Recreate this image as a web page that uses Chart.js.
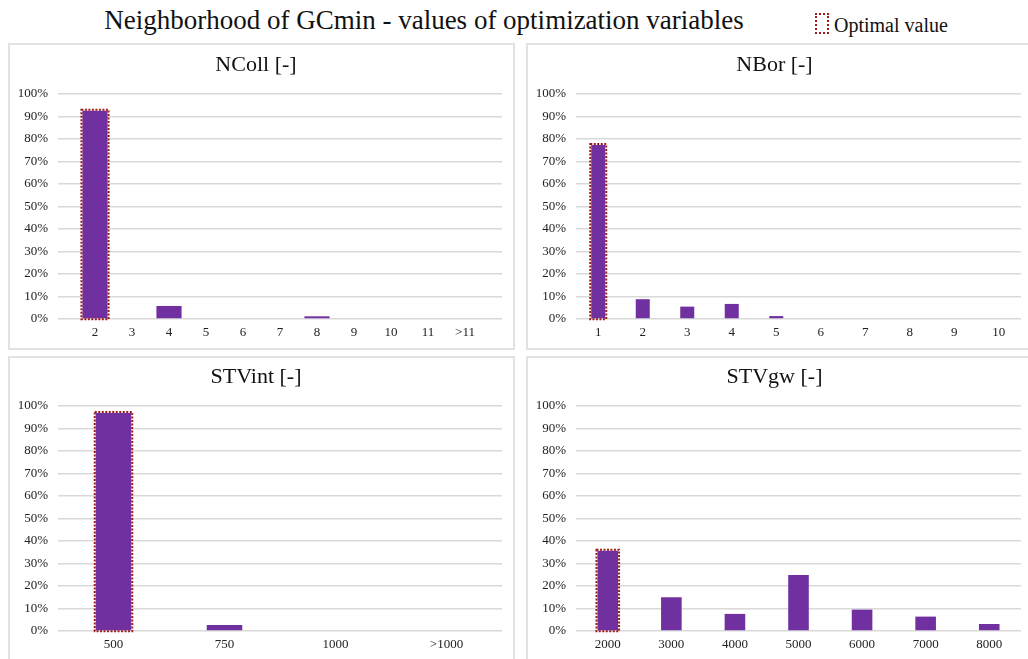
<!DOCTYPE html>
<html>
<head>
<meta charset="utf-8">
<script src="https://cdn.jsdelivr.net/npm/chart.js@4.4.1/dist/chart.umd.min.js"></script>
<style>
  html, body { margin: 0; padding: 0; background: #ffffff; overflow: hidden; width: 1028px; height: 659px; }
  body { position: relative; font-family: "Liberation Serif", "Times New Roman", serif; }
  .panel { position: absolute; border: 2px solid #e2e2e2; box-sizing: border-box; background: #fff; }
  .panel canvas { position: absolute; left: 0; top: 0; }
  #mainTitle { position: absolute; left: 424px; top: 4px; transform: translateX(-50%); font-size: 27px; line-height: 32px; white-space: nowrap; color: #111; }
  #legendIcon { position: absolute; left: 815px; top: 13px; width: 14px; height: 21px; box-sizing: border-box; border: 2px dotted #9e1b1b; }
  #legendText { position: absolute; left: 834px; top: 13px; font-size: 20px; line-height: 24px; color: #111; white-space: nowrap; }
</style>
</head>
<body>
<div id="mainTitle">Neighborhood of GCmin - values of optimization variables</div>
<div id="legendIcon"></div>
<div id="legendText">Optimal value</div>

<div class="panel" style="left:8px; top:43px; width:507px; height:307px;"><canvas id="c1"></canvas></div>
<div class="panel" style="left:526px; top:43px; width:506px; height:307px;"><canvas id="c2"></canvas></div>
<div class="panel" style="left:8px; top:356px; width:507px; height:306px;"><canvas id="c3"></canvas></div>
<div class="panel" style="left:526px; top:356px; width:506px; height:306px;"><canvas id="c4"></canvas></div>

<script>
// ---- Data ----
const nCollLabels = ['2', '3', '4', '5', '6', '7', '8', '9', '10', '11', '>11'];
const nCollValues = [92.6, 0, 5.8, 0, 0, 0, 1.2, 0, 0, 0, 0];
const nCollOptimal = '2';

const nBorLabels = ['1', '2', '3', '4', '5', '6', '7', '8', '9', '10'];
const nBorValues = [77.3, 8.8, 5.5, 6.7, 1.3, 0, 0, 0, 0, 0];
const nBorOptimal = '1';

const stvIntLabels = ['500', '750', '1000', '>1000'];
const stvIntValues = [96.9, 2.7, 0, 0];
const stvIntOptimal = '500';

const stvGwLabels = ['2000', '3000', '4000', '5000', '6000', '7000', '8000'];
const stvGwValues = [35.7, 15.0, 7.6, 24.9, 9.5, 6.4, 3.1];
const stvGwOptimal = '2000';

const yTicks = [0, 10, 20, 30, 40, 50, 60, 70, 80, 90, 100];

// ---- Styling ----
const BAR_COLOR = '#7030a0';
const OPT_COLOR = '#9e1b1b';
const FONT = '"Liberation Serif", "Times New Roman", serif';

const optimalBox = {
  id: 'optimalBox',
  afterDatasetsDraw(chart, args, opts) {
    const labels = chart.data.labels;
    const idx = labels.indexOf(opts.label);
    if (idx < 0) return;
    const el = chart.getDatasetMeta(0).data[idx];
    if (!el) return;
    const p = el.getProps(['x', 'y', 'base', 'width'], true);
    const ctx = chart.ctx;
    ctx.save();
    ctx.strokeStyle = OPT_COLOR;
    ctx.lineWidth = 2;
    ctx.setLineDash([2, 1.5]);
    const l = p.x - p.width / 2 - 1, r = p.x + p.width / 2 + 1;
    const t = p.y - 1, b = p.base + 1;
    ctx.strokeRect(l, t, r - l, b - t);
    ctx.restore();
  }
};

function makeChart(id, w, h, labels, values, optimal, cfg) {
  const canvas = document.getElementById(id);
  canvas.width = w; canvas.height = h;
  canvas.style.width = w + 'px'; canvas.style.height = h + 'px';
  let lbls = labels.slice(), vals = values.slice();
  if (cfg.padEnds) { lbls = [''].concat(lbls, ['']); vals = [null].concat(vals, [null]); }
  return new Chart(canvas, {
    type: 'bar',
    data: {
      labels: lbls,
      datasets: [{
        data: vals,
        backgroundColor: BAR_COLOR,
        borderWidth: 0,
        categoryPercentage: 1,
        barPercentage: cfg.barPct
      }]
    },
    plugins: [optimalBox],
    options: {
      responsive: false,
      animation: false,
      devicePixelRatio: 1,
      layout: { padding: { left: 0, right: cfg.padRight, top: 0, bottom: 0 } },
      plugins: {
        legend: { display: false },
        tooltip: { enabled: false },
        title: {
          display: true, text: cfg.title, color: '#111',
          font: { family: FONT, size: 22, weight: 'normal' },
          padding: { top: cfg.titleTop, bottom: 15.6 }
        },
        optimalBox: { label: optimal }
      },
      scales: {
        x: {
          offset: !cfg.padEnds,
          grid: { display: false, drawTicks: false },
          border: { display: false },
          ticks: { color: '#222', font: { family: FONT, size: 13 }, padding: 6, maxRotation: 0, autoSkip: false },
          afterFit(axis) { axis.height = 29; }
        },
        y: {
          min: 0, max: 100,
          afterBuildTicks(axis) { axis.ticks = yTicks.map(v => ({ value: v })); },
          grid: { color: '#d9d9d9', lineWidth: 1.5, drawTicks: false },
          border: { display: false },
          ticks: { color: '#222', font: { family: FONT, size: 13 }, padding: 10, callback: v => v + '%' },
          afterFit(axis) { axis.width = 48; }
        }
      }
    }
  });
}

makeChart('c1', 503, 303, nCollLabels, nCollValues, nCollOptimal,
  { title: 'NColl [-]', padEnds: true, barPct: 0.68, padRight: 11, titleTop: 7 });
makeChart('c2', 502, 303, nBorLabels, nBorValues, nBorOptimal,
  { title: 'NBor [-]', padEnds: false, barPct: 0.315, padRight: 9, titleTop: 7 });
makeChart('c3', 503, 302, stvIntLabels, stvIntValues, stvIntOptimal,
  { title: 'STVint [-]', padEnds: false, barPct: 0.32, padRight: 11, titleTop: 6 });
makeChart('c4', 502, 302, stvGwLabels, stvGwValues, stvGwOptimal,
  { title: 'STVgw [-]', padEnds: false, barPct: 0.324, padRight: 9, titleTop: 6 });
</script>
</body>
</html>
